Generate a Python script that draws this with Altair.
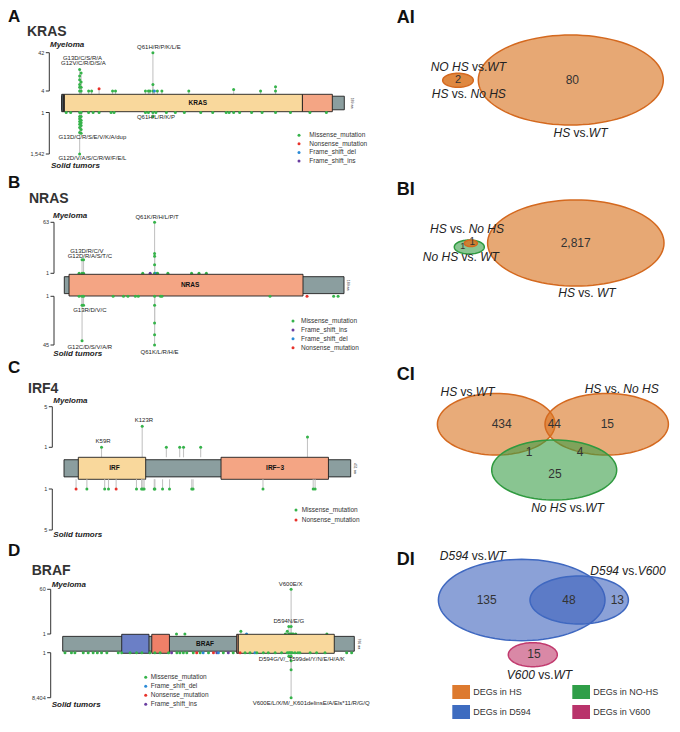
import altair as alt
import numpy as np
import pandas as pd

FONT = "Liberation Sans"
INK = "#222222"
STEM = "#c4c4c4"
AXIS_INK = "#333333"

# ---------------- mutation classes ----------------
TYPES = ["Missense_mutation", "Nonsense_mutation", "Frame_shift_del", "Frame_shift_ins"]
TYPE_COLORS = ["#35b34a", "#e8322b", "#2a8ad6", "#6a3da0"]
CODES = {"M": TYPES[0], "N": TYPES[1], "D": TYPES[2], "I": TYPES[3]}
CSCALE = alt.Scale(domain=TYPES, range=TYPE_COLORS)

GENE_GRAY = "#8b9e9f"
DOM_YELLOW = "#f9d89c"
DOM_SALMON = "#f4a584"
DOM_BLUE = "#6b7fc6"
DOM_RED = "#ef8068"
DOM_DARK = "#4a5860"

# ---------------- KRAS ----------------
KRAS_LEN = 189
KRAS_MY_AA = [12, 12, 12, 12, 12, 12, 13, 13, 13, 13, 18, 20, 25, 34, 36, 56, 58, 59, 61, 61, 61, 62, 64, 67, 85, 115, 133, 143, 143]
KRAS_MY_N = [15, 10, 8, 6, 5, 4, 12, 7, 5, 4, 4, 4, 4.6, 4, 4, 4, 4, 4, 42, 6, 4, 4, 4, 4, 4, 4.4, 4, 5.2, 4]
KRAS_MY_T = list("MMMMMMMMMMMMNMMMMMMMMDMMMMMMM")
KRAS_SO_AA = [12, 12, 12, 12, 12, 12, 12, 12, 13, 13, 13, 13, 13, 13, 13, 61, 61,
              3, 6, 18, 21, 25, 33, 35, 56, 58, 63, 70, 76, 82, 93, 101, 110, 112, 115, 119, 127, 134, 143, 153, 166, 177]
KRAS_SO_N = [1542, 35, 14, 8, 5, 3, 2, 1, 40, 20, 10, 6, 4, 2, 1, 2, 1,
             1, 1, 1, 1, 1, 1, 1, 1, 1, 1, 1, 1, 1, 1, 1, 1, 1, 1, 1, 1, 1, 1, 1, 1, 1]
KRAS_SO_T = list("M" * 42)
KRAS_DOM_S = [0, 1.3, 1.8, 161]
KRAS_DOM_E = [1.3, 1.8, 161, 181]
KRAS_DOM_FILL = [DOM_DARK, DOM_SALMON, DOM_YELLOW, DOM_SALMON]
KRAS_GLAB = ["KRAS"]
KRAS_GLAB_POS = [91]
KRAS_LABELS = [
    ("top", 12.5, 15, 2, -9.5, "G13D/C/S/R/A"),
    ("top", 12.5, 15, 3, -4.5, "G12V/C/R/D/S/A"),
    ("top", 61, 42, 6, -3.5, "Q61H/R/P/K/L/E"),
    ("bot", 12.5, 40, 12, 5.5, "G13D/C/R/S/E/V/K/A/dup"),
    ("bot", 12.5, 1542, 12, 5.5, "G12D/V/A/S/C/R/W/F/E/L"),
    ("bot", 61, 1, 3, 6, "Q61H/L/R/K/P"),
]

# ---------------- NRAS ----------------
NRAS_LEN = 189
NRAS_MY_AA = [12, 12, 13, 13, 10, 53, 58, 61, 61, 61, 61, 61, 62, 63, 70, 86, 91, 96]
NRAS_MY_N = [3, 1, 3, 1, 1, 1, 1, 63, 5, 4, 2, 1, 1, 1, 1, 1, 1, 1]
NRAS_MY_T = list("MMMMMMIMMMMMDMMMMM")
NRAS_SO_AA = [12, 12, 12, 13, 13, 10, 33, 40, 43, 48, 50, 61, 61, 61, 61, 61, 65, 66, 139, 164, 182, 185]
NRAS_SO_N = [32, 2, 1, 2, 1, 1, 1, 1, 1, 1, 1, 45, 20, 8, 2, 1, 1, 1, 1, 1, 1, 1]
NRAS_SO_T = list("MMMMMMMMMMMMMMMMMMMNMM")
NRAS_DOM_S = [3.2]
NRAS_DOM_E = [161.3]
NRAS_DOM_FILL = [DOM_SALMON]
NRAS_GLAB = ["NRAS"]
NRAS_GLAB_POS = [85]
NRAS_LABELS = [
    ("top", 12.5, 3, 4, -7, "G13D/R/C/V"),
    ("top", 12.5, 3, 7, -2, "G12D/R/A/S/T/C"),
    ("top", 61, 63, 2.5, -3.5, "Q61K/R/H/L/P/T"),
    ("bot", 12.5, 2, 7, 6.5, "G13R/D/V/C"),
    ("bot", 12.5, 32, 7, 8, "G12C/D/S/V/A/R"),
    ("bot", 61, 45, 5, 8.5, "Q61K/L/R/H/E"),
]

# ---------------- IRF4 ----------------
IRF4_LEN = 451
IRF4_MY_AA = [59, 123, 161, 182, 188, 215, 383]
IRF4_MY_N = [1, 2.3, 1, 1, 1, 1, 1.5]
IRF4_MY_T = list("MMMMMMM")
IRF4_SO_AA = [19, 36, 64, 70, 82, 114, 122, 124, 126, 142, 143, 155, 166, 201, 203, 313, 392, 395]
IRF4_SO_N = [1, 1, 1, 1, 1, 1, 1, 1, 1, 1, 1, 1, 1, 1, 1, 1, 1, 1]
IRF4_SO_T = list("NMMMNMMMMMMMMMMMMM")
IRF4_DOM_S = [22.5, 247]
IRF4_DOM_E = [128.5, 416]
IRF4_DOM_FILL = [DOM_YELLOW, DOM_SALMON]
IRF4_GLAB = ["IRF", "IRF\u22123"]
IRF4_GLAB_POS = [79.4, 332]
IRF4_LABELS = [
    ("top", 59, 1, 1.6, -4, "K59R"),
    ("top", 123, 2.3, 1.7, -4, "K123R"),
]

# ---------------- BRAF ----------------
BRAF_LEN = 766
BRAF_MY_AA = [600, 600, 600, 585, 590, 594, 594, 597, 603, 606, 612, 299, 321, 468, 483, 694]
BRAF_MY_N = [60, 2, 1, 1, 1.3, 2, 1, 1, 1, 1, 1, 1, 1, 1.3, 1, 1]
BRAF_MY_T = list("MMMMMMMMMMMMMMDM")
BRAF_SO_AA = [600, 600, 600, 600, 600, 594, 594,
              6, 23, 32, 54, 67, 80, 91, 102, 116, 146, 155, 177, 194, 208, 229, 242, 256, 278, 286, 300,
              308, 317, 326, 343, 352, 361, 369, 383, 396, 405, 409, 422, 435, 448, 466, 479, 492, 505, 510, 527,
              540, 558, 575, 590, 597, 603, 610, 618, 623, 650, 667, 689, 746, 759]
BRAF_SO_N = [8404, 30, 5, 2, 1, 2, 1,
             1, 1, 1, 1, 1, 1, 1, 1, 1, 1, 1, 1, 1, 1, 1, 1, 1, 1, 1, 1,
             1, 1, 1, 1, 1, 1, 1, 1, 1, 1, 1, 1, 1, 1, 1, 1, 1, 1, 1, 1,
             1, 1, 1, 1, 1, 1, 1, 1, 1, 1, 1, 1, 1, 1]
BRAF_SO_T = list("MMMMMMM" + "MMMMMMMMMMMMMMMMMM" + "I" + "MMMMM" + "N" + "M" + "D" + "M" + "N" + "I" + "D"
                 + "M" + "I" + "M" + "N" + "MM" + "D" + "MMMMMMMMMMMMMMMM")
BRAF_DOM_S = [155, 234, 457, 461.3]
BRAF_DOM_E = [226.7, 280.4, 461, 713.4]
BRAF_DOM_FILL = [DOM_BLUE, DOM_RED, DOM_SALMON, DOM_YELLOW]
BRAF_GLAB = ["BRAF"]
BRAF_GLAB_POS = [374]
BRAF_LABELS = [
    ("top", 600, 60, -0.5, -3, "V600E/X"),
    ("top", 594, 2, 0, -3, "D594N/E/G"),
    ("bot", 594, 2, 13, 4.5, "D594G/V/_T599del/Y/N/E/H/A/K"),
    ("bot", 600, 8404, 20, 7, "V600E/L/X/M/_K601delinsE/A/Els*11/R/G/Q"),
]

# ---------------- layout of the lollipop panels ----------------
LEFT_W = 352
RIGHT_W = 312
ROW_H = [162, 175, 175, 200]

GENES = [
    dict(len=KRAS_LEN, my=(KRAS_MY_AA, KRAS_MY_N, KRAS_MY_T), so=(KRAS_SO_AA, KRAS_SO_N, KRAS_SO_T),
         dom=(KRAS_DOM_S, KRAS_DOM_E, KRAS_DOM_FILL), glab=(KRAS_GLAB, KRAS_GLAB_POS), labels=KRAS_LABELS,
         top_dom=[4, 42], top_ticks=["4", "42"], bot_dom=[1, 1542], bot_ticks=["1", "1,542"],
         letter="A", name="KRAS", h=ROW_H[0], letter_y=14, name_xy=(19, 28), my_xy=(42, 39), so_xy=(43, 160),
         xr=[53.7, 336.3], gene_rng=[86.3, 103.7], top_rng=[83, 44.7], bot_rng=[104.5, 146], ax_x=41.3,
         aa_dx=7.4, leg=list("MNDI"), leg_dot=291, leg_txt=301.3, leg_y=[127.3, 153]),
    dict(len=NRAS_LEN, my=(NRAS_MY_AA, NRAS_MY_N, NRAS_MY_T), so=(NRAS_SO_AA, NRAS_SO_N, NRAS_SO_T),
         dom=(NRAS_DOM_S, NRAS_DOM_E, NRAS_DOM_FILL), glab=(NRAS_GLAB, NRAS_GLAB_POS), labels=NRAS_LABELS,
         top_dom=[1, 63], top_ticks=["1", "63"], bot_dom=[1, 45], bot_ticks=["1", "45"],
         letter="B", name="NRAS", h=ROW_H[1], letter_y=18.3, name_xy=(21, 33.3), my_xy=(45, 48), so_xy=(45.3, 186),
         xr=[56.3, 336], gene_rng=[104.3, 126], top_rng=[103.3, 52.3], bot_rng=[126.3, 175], ax_x=46,
         aa_dx=3.5, leg=list("MIDN"), leg_dot=285, leg_txt=293, leg_y=[151, 177.7]),
    dict(len=IRF4_LEN, my=(IRF4_MY_AA, IRF4_MY_N, IRF4_MY_T), so=(IRF4_SO_AA, IRF4_SO_N, IRF4_SO_T),
         dom=(IRF4_DOM_S, IRF4_DOM_E, IRF4_DOM_FILL), glab=(IRF4_GLAB, IRF4_GLAB_POS), labels=IRF4_LABELS,
         top_dom=[1, 5], top_ticks=["1", "5"], bot_dom=[1, 5], bot_ticks=["1", "5"],
         letter="C", name="IRF4", h=ROW_H[2], letter_y=28, name_xy=(20, 48), my_xy=(45.3, 58), so_xy=(45.3, 192),
         xr=[56, 342.7], gene_rng=[112.3, 134.3], top_rng=[102.3, 61.7], bot_rng=[144, 185], ax_x=44.3,
         aa_dx=4.5, leg=list("MN"), leg_dot=288, leg_txt=293.7, leg_y=[165, 175]),
    dict(len=BRAF_LEN, my=(BRAF_MY_AA, BRAF_MY_N, BRAF_MY_T), so=(BRAF_SO_AA, BRAF_SO_N, BRAF_SO_T),
         dom=(BRAF_DOM_S, BRAF_DOM_E, BRAF_DOM_FILL), glab=(BRAF_GLAB, BRAF_GLAB_POS), labels=BRAF_LABELS,
         top_dom=[1, 60], top_ticks=["1", "60"], bot_dom=[1, 8404], bot_ticks=["1", "8,404"],
         letter="D", name="BRAF", h=ROW_H[3], letter_y=36, name_xy=(23.7, 55), my_xy=(43.7, 66.5), so_xy=(43.7, 186.5),
         xr=[54.7, 346.3], gene_rng=[114.3, 133.3], top_rng=[114, 69.3], bot_rng=[132.7, 177.7], ax_x=42.7,
         aa_dx=5, leg=list("MDNI"), leg_dot=137.7, leg_txt=142.7, leg_y=[157.3, 184.3]),
]

# ---------------- Venn data ----------------
ORANGE_FILL, ORANGE_LINE = "#d9731f", "#d4691f"
GREEN_FILL, GREEN_LINE = "#3a9e47", "#2f9a3f"
BLUE_FILL, BLUE_LINE = "#3d63bd", "#3f68c0"
RED_FILL, RED_LINE = "#c0396b", "#c13a6e"

VENNS = [
    dict(letter="AI", letter_y=15, h=ROW_H[0],
         ell=dict(cx=[210.8, 98], cy=[72, 72.3], rx=[92.5, 15.3], ry=[45, 7],
                  fill=[ORANGE_FILL, ORANGE_FILL], line=[ORANGE_LINE, ORANGE_LINE], alpha=[0.62, 0.85]),
         nums=dict(t=["80", "2"], x=[212.3, 98], y=[72, 72.3], s=[12, 11]),
         labels=[("NO HS", " vs.", "WT", 108.3, 63), ("HS", " vs. ", "No HS", 108.8, 89.5), ("HS", " vs.", "WT", 220.5, 129)]),
    dict(letter="BI", letter_y=25, h=ROW_H[1],
         ell=dict(cx=[215.8, 109.3, 110.8], cy=[73, 77, 73.3], rx=[88.2, 15, 6.5], ry=[43, 7, 3.3],
                  fill=[ORANGE_FILL, GREEN_FILL, ORANGE_FILL], line=[ORANGE_LINE, GREEN_LINE, ORANGE_LINE],
                  alpha=[0.62, 0.6, 0.8]),
         nums=dict(t=["2,817", "1", "1"], x=[215.7, 102.7, 112.3], y=[73.3, 76, 71.7], s=[12, 9, 10]),
         labels=[("HS", " vs. ", "No HS", 107, 62.5), ("No HS", " vs. ", "WT", 100.8, 91), ("HS", " vs. ", "WT", 227, 126.5)]),
    dict(letter="CI", letter_y=35, h=ROW_H[2],
         ell=dict(cx=[136.2, 246.7, 194.2], cy=[79.2, 79.2, 125], rx=[58.8, 61.7, 62.5], ry=[30.8, 30.8, 30],
                  fill=[ORANGE_FILL, ORANGE_FILL, GREEN_FILL], line=[ORANGE_LINE, ORANGE_LINE, GREEN_LINE],
                  alpha=[0.6, 0.6, 0.6]),
         nums=dict(t=["434", "44", "15", "1", "4", "25"], x=[141.7, 194.3, 247.3, 169, 220, 195],
                   y=[79, 79, 79, 106.7, 106.7, 129], s=[12, 12, 12, 12, 12, 12]),
         labels=[("HS", " vs.", "WT", 107.5, 51), ("HS", " vs. ", "No HS", 261.7, 48), ("No HS", " vs.", "WT", 207.5, 166.5)]),
    dict(letter="DI", letter_y=45, h=ROW_H[3],
         ell=dict(cx=[161.7, 219.2, 172.8], cy=[80, 80, 134.7], rx=[83.3, 49.2, 24.5], ry=[40.7, 24, 12],
                  fill=[BLUE_FILL, BLUE_FILL, RED_FILL], line=[BLUE_LINE, BLUE_LINE, RED_LINE],
                  alpha=[0.6, 0.6, 0.6]),
         nums=dict(t=["135", "48", "13", "15"], x=[126.7, 209, 257.3, 174], y=[80, 80, 80, 134.3], s=[12, 12, 12, 12]),
         labels=[("D594", " vs.", "WT", 112.8, 40), ("D594", " vs.", "V600", 268, 55), ("V600", " vs.", "WT", 179.5, 159.3)]),
]

LEGEND_NAMES = ["DEGs in HS", "DEGs in NO-HS", "DEGs in D594", "DEGs in V600"]
LEGEND_COLORS = ["#dd7a2f", "#2f9e48", "#3e6cc0", "#b9336b"]

# Arial / Liberation Sans advance widths (per 1000 em) for label layout
AW = {" ": 278, ".": 278, "v": 500, "s": 500, "o": 556, "H": 722, "S": 667, "N": 722, "O": 778,
      "W": 944, "T": 611, "D": 722, "V": 667}


def tw(s, size=12):
    return sum(AW.get(c, 556) for c in s) * size / 1000.0


def label_text(t, x, y, **kw):
    style = dict(font=FONT, align="left", baseline="alphabetic", color=INK)
    style.update(kw)
    return alt.Chart(pd.DataFrame({"t": [t]})).mark_text(**style).encode(
        x=alt.value(x), y=alt.value(y), text="t:N")


def lollipop(g):
    L = g["len"]
    xs = alt.Scale(domain=[0, L], range=g["xr"], nice=False, zero=False)

    def X(f):
        return alt.X(f, scale=xs, axis=None)

    titles = [
        label_text(g["letter"], 0, g["letter_y"], fontSize=17, fontWeight="bold", color="#111111"),
        label_text(g["name"], g["name_xy"][0], g["name_xy"][1], fontSize=14, fontWeight="bold", color="#333333"),
        label_text("Myeloma", g["my_xy"][0], g["my_xy"][1], fontSize=8, fontWeight="bold", fontStyle="italic"),
        label_text("Solid tumors", g["so_xy"][0], g["so_xy"][1], fontSize=8, fontWeight="bold", fontStyle="italic"),
    ]

    def side(data, dom, rng, edge, labels, ticklabs):
        aa, n, t = data
        sc = alt.Scale(type="log", domain=dom, range=rng, nice=False)

        def Y(f):
            return alt.Y(f, scale=sc, axis=None)

        df = pd.DataFrame({"aa": aa, "n": n, "type": [CODES[c] for c in t]})
        parts = [
            alt.Chart(df).mark_rule(color=STEM, strokeWidth=1.1).encode(
                x=X("aa:Q"), y=Y("n:Q"), y2=alt.value(edge)),
            alt.Chart(df).mark_circle(size=9, opacity=1).encode(
                x=X("aa:Q"), y=Y("n:Q"), color=alt.Color("type:N", scale=CSCALE, legend=None)),
        ]
        for (a, v, dx, dy, txt) in labels:
            parts.append(
                alt.Chart(pd.DataFrame({"aa": [a], "n": [v], "t": [txt]})).mark_text(
                    font=FONT, fontSize=6, color=INK, dx=dx, dy=dy, baseline="alphabetic"
                ).encode(x=X("aa:Q"), y=Y("n:Q"), text="t:N"))
        ax_x = g["ax_x"]
        axdf = pd.DataFrame({"v": dom, "lab": ticklabs})
        parts.append(alt.Chart(pd.DataFrame({"lo": [dom[0]], "hi": [dom[1]]})).mark_rule(
            color=AXIS_INK, strokeWidth=1).encode(x=alt.value(ax_x), y=Y("lo:Q"), y2="hi:Q"))
        parts.append(alt.Chart(axdf).mark_rule(color=AXIS_INK, strokeWidth=1).encode(
            x=alt.value(ax_x - 3.5), x2=alt.value(ax_x), y=Y("v:Q")))
        parts.append(alt.Chart(axdf).mark_text(font=FONT, fontSize=5.5, color=AXIS_INK, align="right",
                                               baseline="middle").encode(
            x=alt.value(ax_x - 5), y=Y("v:Q"), text="lab:N"))
        return alt.layer(*parts)

    top_labels = [l[1:] for l in g["labels"] if l[0] == "top"]
    bot_labels = [l[1:] for l in g["labels"] if l[0] == "bot"]
    top = side(g["my"], g["top_dom"], g["top_rng"], g["gene_rng"][0], top_labels, g["top_ticks"])
    bot = side(g["so"], g["bot_dom"], g["bot_rng"], g["gene_rng"][1], bot_labels, g["bot_ticks"])

    # gene body
    gs = alt.Scale(domain=[0, 1], range=g["gene_rng"], nice=False, zero=False)

    def GY(f):
        return alt.Y(f, scale=gs, axis=None)

    bb = pd.DataFrame({"s": [0], "e": [L], "y0": [0.11], "y1": [0.89]})
    back = alt.Chart(bb).mark_rect(fill=GENE_GRAY, stroke="#1e1e1e", strokeWidth=0.9).encode(
        x=X("s:Q"), x2="e:Q", y=GY("y0:Q"), y2="y1:Q")
    ds, de, dfill = g["dom"]
    dm = pd.DataFrame({"s": ds, "e": de, "fill": dfill, "y0": [0.0] * len(ds), "y1": [1.0] * len(ds)})
    doms = alt.Chart(dm).mark_rect(stroke="#1e1e1e", strokeWidth=0.9).encode(
        x=X("s:Q"), x2="e:Q", y=GY("y0:Q"), y2="y1:Q", fill=alt.Fill("fill:N", scale=None))
    gl_t, gl_p = g["glab"]
    gl = pd.DataFrame({"p": gl_p, "t": gl_t, "y": [0.5] * len(gl_t)})
    glab = alt.Chart(gl).mark_text(font=FONT, fontSize=6.5, fontWeight="bold", color="#111111",
                                   baseline="middle").encode(x=X("p:Q"), y=GY("y:Q"), text="t:N")
    px_per_aa = (g["xr"][1] - g["xr"][0]) / L
    aadf = pd.DataFrame({"p": [L + g["aa_dx"] / px_per_aa], "t": [f"{L} aa"], "y": [0.5]})
    aalab = alt.Chart(aadf).mark_text(font=FONT, fontSize=3.5, color="#333333", angle=90,
                                      baseline="middle", align="center").encode(
        x=X("p:Q"), y=GY("y:Q"), text="t:N")
    gene = alt.layer(back, doms, glab, aalab)

    # legend
    nleg = len(g["leg"])
    ls = alt.Scale(domain=[0, nleg - 1], range=g["leg_y"], nice=False, zero=False)
    ldf = pd.DataFrame({"type": [CODES[c] for c in g["leg"]], "i": list(range(nleg))})
    ldot = alt.Chart(ldf).mark_circle(size=9, opacity=1).encode(
        x=alt.value(g["leg_dot"]), y=alt.Y("i:Q", scale=ls, axis=None),
        color=alt.Color("type:N", scale=CSCALE, legend=None))
    ltxt = alt.Chart(ldf).mark_text(font=FONT, fontSize=6.5, color="#333333", align="left",
                                    baseline="middle").encode(
        x=alt.value(g["leg_txt"]), y=alt.Y("i:Q", scale=ls, axis=None), text="type:N")
    leg = alt.layer(ldot, ltxt)

    return alt.layer(*titles, top, gene, bot, leg).resolve_scale(y="independent").properties(
        width=LEFT_W, height=g["h"])


def ell_path(k, npts=96):
    pts = [(np.cos(t), k * np.sin(t)) for t in np.linspace(0, 2 * np.pi, npts, endpoint=False)]
    return "M" + " L".join(f"{x:.4f},{y:.4f}" for x, y in pts) + " Z"


def venn(v):
    h = v["h"]
    xs = alt.Scale(domain=[0, RIGHT_W], range=[0, RIGHT_W], nice=False, zero=False)
    ys = alt.Scale(domain=[0, h], range=[0, h], nice=False, zero=False)

    def X(f):
        return alt.X(f, scale=xs, axis=None)

    def Y(f):
        return alt.Y(f, scale=ys, axis=None)

    e = v["ell"]
    edf = pd.DataFrame({"cx": e["cx"], "cy": e["cy"], "fill": e["fill"], "stroke": e["line"], "fo": e["alpha"]})
    edf["path"] = [ell_path(ry / rx) for rx, ry in zip(e["rx"], e["ry"])]
    edf["sz"] = [(2 * rx) ** 2 for rx in e["rx"]]
    edf["i"] = list(range(len(edf)))
    ell = alt.Chart(edf).mark_point(filled=True, opacity=1, strokeWidth=1.5).encode(
        x=X("cx:Q"), y=Y("cy:Q"),
        shape=alt.Shape("path:N", scale=None), size=alt.Size("sz:Q", scale=None),
        fill=alt.Fill("fill:N", scale=None), stroke=alt.Stroke("stroke:N", scale=None),
        fillOpacity=alt.FillOpacity("fo:Q", scale=None), order=alt.Order("i:Q"))

    ndf = pd.DataFrame(v["nums"])
    nums = alt.Chart(ndf).mark_text(font=FONT, color="#333333", baseline="middle").encode(
        x=X("x:Q"), y=Y("y:Q"), text="t:N", size=alt.Size("s:Q", scale=None))

    ital, norm = [], []
    for a, mid, b, cx, by in v["labels"]:
        total = tw(a + mid + b)
        x0 = cx - total / 2
        ital.append((a, x0, by))
        lead = len(mid) - len(mid.lstrip())
        norm.append((mid.strip(), x0 + tw(a + mid[:lead]), by))
        ital.append((b, x0 + tw(a + mid), by))
    idf = pd.DataFrame(ital, columns=["t", "x", "y"])
    ndf2 = pd.DataFrame(norm, columns=["t", "x", "y"])
    lab_i = alt.Chart(idf).mark_text(font=FONT, fontSize=12, fontStyle="italic", color=INK, align="left",
                                      baseline="alphabetic").encode(x=X("x:Q"), y=Y("y:Q"), text="t:N")
    lab_n = alt.Chart(ndf2).mark_text(font=FONT, fontSize=12, color=INK, align="left",
                                       baseline="alphabetic").encode(x=X("x:Q"), y=Y("y:Q"), text="t:N")
    letter = label_text(v["letter"], 36.7, v["letter_y"], fontSize=18, fontWeight="bold", color="#111111")
    layers = [ell, nums, lab_i, lab_n, letter]

    if v["letter"] == "DI":
        col_x = [92.3, 212.3, 92.3, 212.3]
        row_y = [165, 165, 185, 185]
        lg = pd.DataFrame({"name": LEGEND_NAMES, "color": LEGEND_COLORS,
                           "x0": col_x, "x1": [c + 17.7 for c in col_x],
                           "y0": row_y, "y1": [r + 14 for r in row_y],
                           "tx": [c + 21 for c in col_x], "ty": [r + 10.3 for r in row_y]})
        sq = alt.Chart(lg).mark_rect().encode(x=X("x0:Q"), x2="x1:Q", y=Y("y0:Q"), y2="y1:Q",
                                              fill=alt.Fill("color:N", scale=None))
        tx = alt.Chart(lg).mark_text(font=FONT, fontSize=9, color="#333333", align="left",
                                     baseline="alphabetic").encode(x=X("tx:Q"), y=Y("ty:Q"), text="name:N")
        layers += [sq, tx]

    return alt.layer(*layers).properties(width=RIGHT_W, height=h)


cells = []
for g, v in zip(GENES, VENNS):
    cells.append(lollipop(g))
    cells.append(venn(v))

chart = alt.concat(*cells, columns=2, spacing=0, bounds="flush").properties(padding=0).configure_view(stroke=None)

chart.save("out.html", embed_options={"renderer": "svg", "actions": False})
